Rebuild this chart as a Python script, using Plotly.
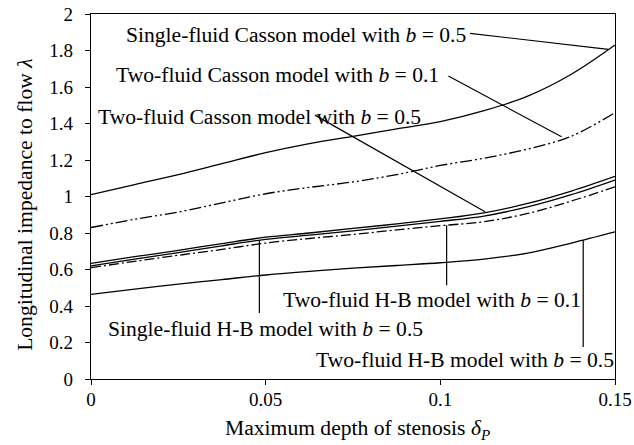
import plotly.graph_objects as go

# maximum depth of stenosis
delta = [0, 0.0125, 0.025, 0.0375, 0.05, 0.0625, 0.075, 0.0875, 0.1, 0.1125, 0.125, 0.1375, 0.15]

# longitudinal impedance to flow
single_casson_05 = [1.01, 1.065, 1.12, 1.18, 1.24, 1.29, 1.33, 1.37, 1.41, 1.47, 1.55, 1.67, 1.83]
two_casson_01 = [0.83, 0.875, 0.915, 0.965, 1.015, 1.05, 1.08, 1.12, 1.17, 1.21, 1.26, 1.33, 1.46]
two_casson_05 = [0.633, 0.67, 0.705, 0.742, 0.777, 0.80, 0.825, 0.85, 0.877, 0.91, 0.962, 1.03, 1.11]
single_hb_05 = [0.62, 0.657, 0.693, 0.73, 0.765, 0.788, 0.812, 0.838, 0.864, 0.893, 0.943, 1.01, 1.09]
two_hb_01 = [0.61, 0.645, 0.678, 0.71, 0.745, 0.77, 0.792, 0.817, 0.84, 0.862, 0.907, 0.975, 1.053]
two_hb_05 = [0.464, 0.492, 0.52, 0.545, 0.57, 0.59, 0.607, 0.622, 0.637, 0.657, 0.69, 0.745, 0.806]

FONT = "Liberation Serif"

series = [
    (single_casson_05, "solid"),
    (two_casson_01, "12px,3px,2px,3px,2px,3px"),
    (two_casson_05, "solid"),
    (single_hb_05, "solid"),
    (two_hb_01, "10px,3px,2px,3px"),
    (two_hb_05, "solid"),
]

fig = go.Figure()
for ys, dash in series:
    fig.add_trace(go.Scatter(
        x=delta, y=ys, mode="lines", line_shape="spline",
        line=dict(color="black", width=1.3, dash=dash),
        showlegend=False, hoverinfo="skip",
    ))

# labels: (text, x, y) with left anchor
labels = [
    ("Single-fluid Casson model with <i>b</i> = 0.5", 0.0097, 1.884),
    ("Two-fluid Casson model with <i>b</i> = 0.1", 0.0069, 1.665),
    ("Two-fluid Casson model with <i>b</i> = 0.5", 0.0016, 1.435),
    ("Two-fluid H-B model with <i>b</i> = 0.1", 0.0546, 0.431),
    ("Single-fluid H-B model with <i>b</i> = 0.5", 0.0045, 0.276),
    ("Two-fluid H-B model with <i>b</i> = 0.5", 0.0641, 0.106),
]
for txt, lx, ly in labels:
    fig.add_annotation(text=txt, x=lx, y=ly, xref="x", yref="y",
                       xanchor="left", yanchor="middle", showarrow=False,
                       borderpad=0, font=dict(family=FONT, size=21.6, color="black"))

# leader lines
leaders = [
    (0.1085, 1.894, 0.1481, 1.806),
    (0.1023, 1.660, 0.1347, 1.327),
    (0.0641, 1.446, 0.1128, 0.916),
    (0.1018, 0.843, 0.1018, 0.514),
    (0.0482, 0.757, 0.0482, 0.362),
    (0.1409, 0.760, 0.1409, 0.175),
]
for x0, y0, x1, y1 in leaders:
    fig.add_shape(type="line", x0=x0, y0=y0, x1=x1, y1=y1, xref="x", yref="y",
                  line=dict(color="black", width=1.2))

# axis titles
fig.add_annotation(text="Maximum depth of stenosis <i>δ<sub>P</sub></i>",
                   x=0.508, y=-0.138, xref="paper", yref="paper",
                   xanchor="center", yanchor="middle", showarrow=False,
                   font=dict(family=FONT, size=21.6, color="black"))
fig.add_annotation(text="Longitudinal impedance to flow <i>λ</i>",
                   x=-0.126, y=0.477, xref="paper", yref="paper", textangle=-90,
                   xanchor="center", yanchor="middle", showarrow=False,
                   font=dict(family=FONT, size=21.6, color="black"))

axis_common = dict(showline=True, linecolor="black", linewidth=1.3, mirror=True,
                   ticks="outside", ticklen=5, tickcolor="black", tickwidth=1.3,
                   showgrid=False, zeroline=False, automargin=False,
                   tickfont=dict(family=FONT, size=19, color="black"))

fig.update_layout(
    width=634, height=445,
    margin=dict(l=91, r=19, t=14, b=66),
    plot_bgcolor="white", paper_bgcolor="white",
    font=dict(family=FONT, size=19, color="black"),
    xaxis=dict(range=[0, 0.15], tickvals=[0, 0.05, 0.1, 0.15],
               ticktext=["0", "0.05", "0.1", "0.15"], ticklabelstandoff=-2,
               **axis_common),
    yaxis=dict(range=[0, 2], tick0=0, dtick=0.2, ticklabelstandoff=8,
               **axis_common),
)

fig.write_html("out.html", config={"displayModeBar": False},
               post_script="document.body.style.margin='0';")
